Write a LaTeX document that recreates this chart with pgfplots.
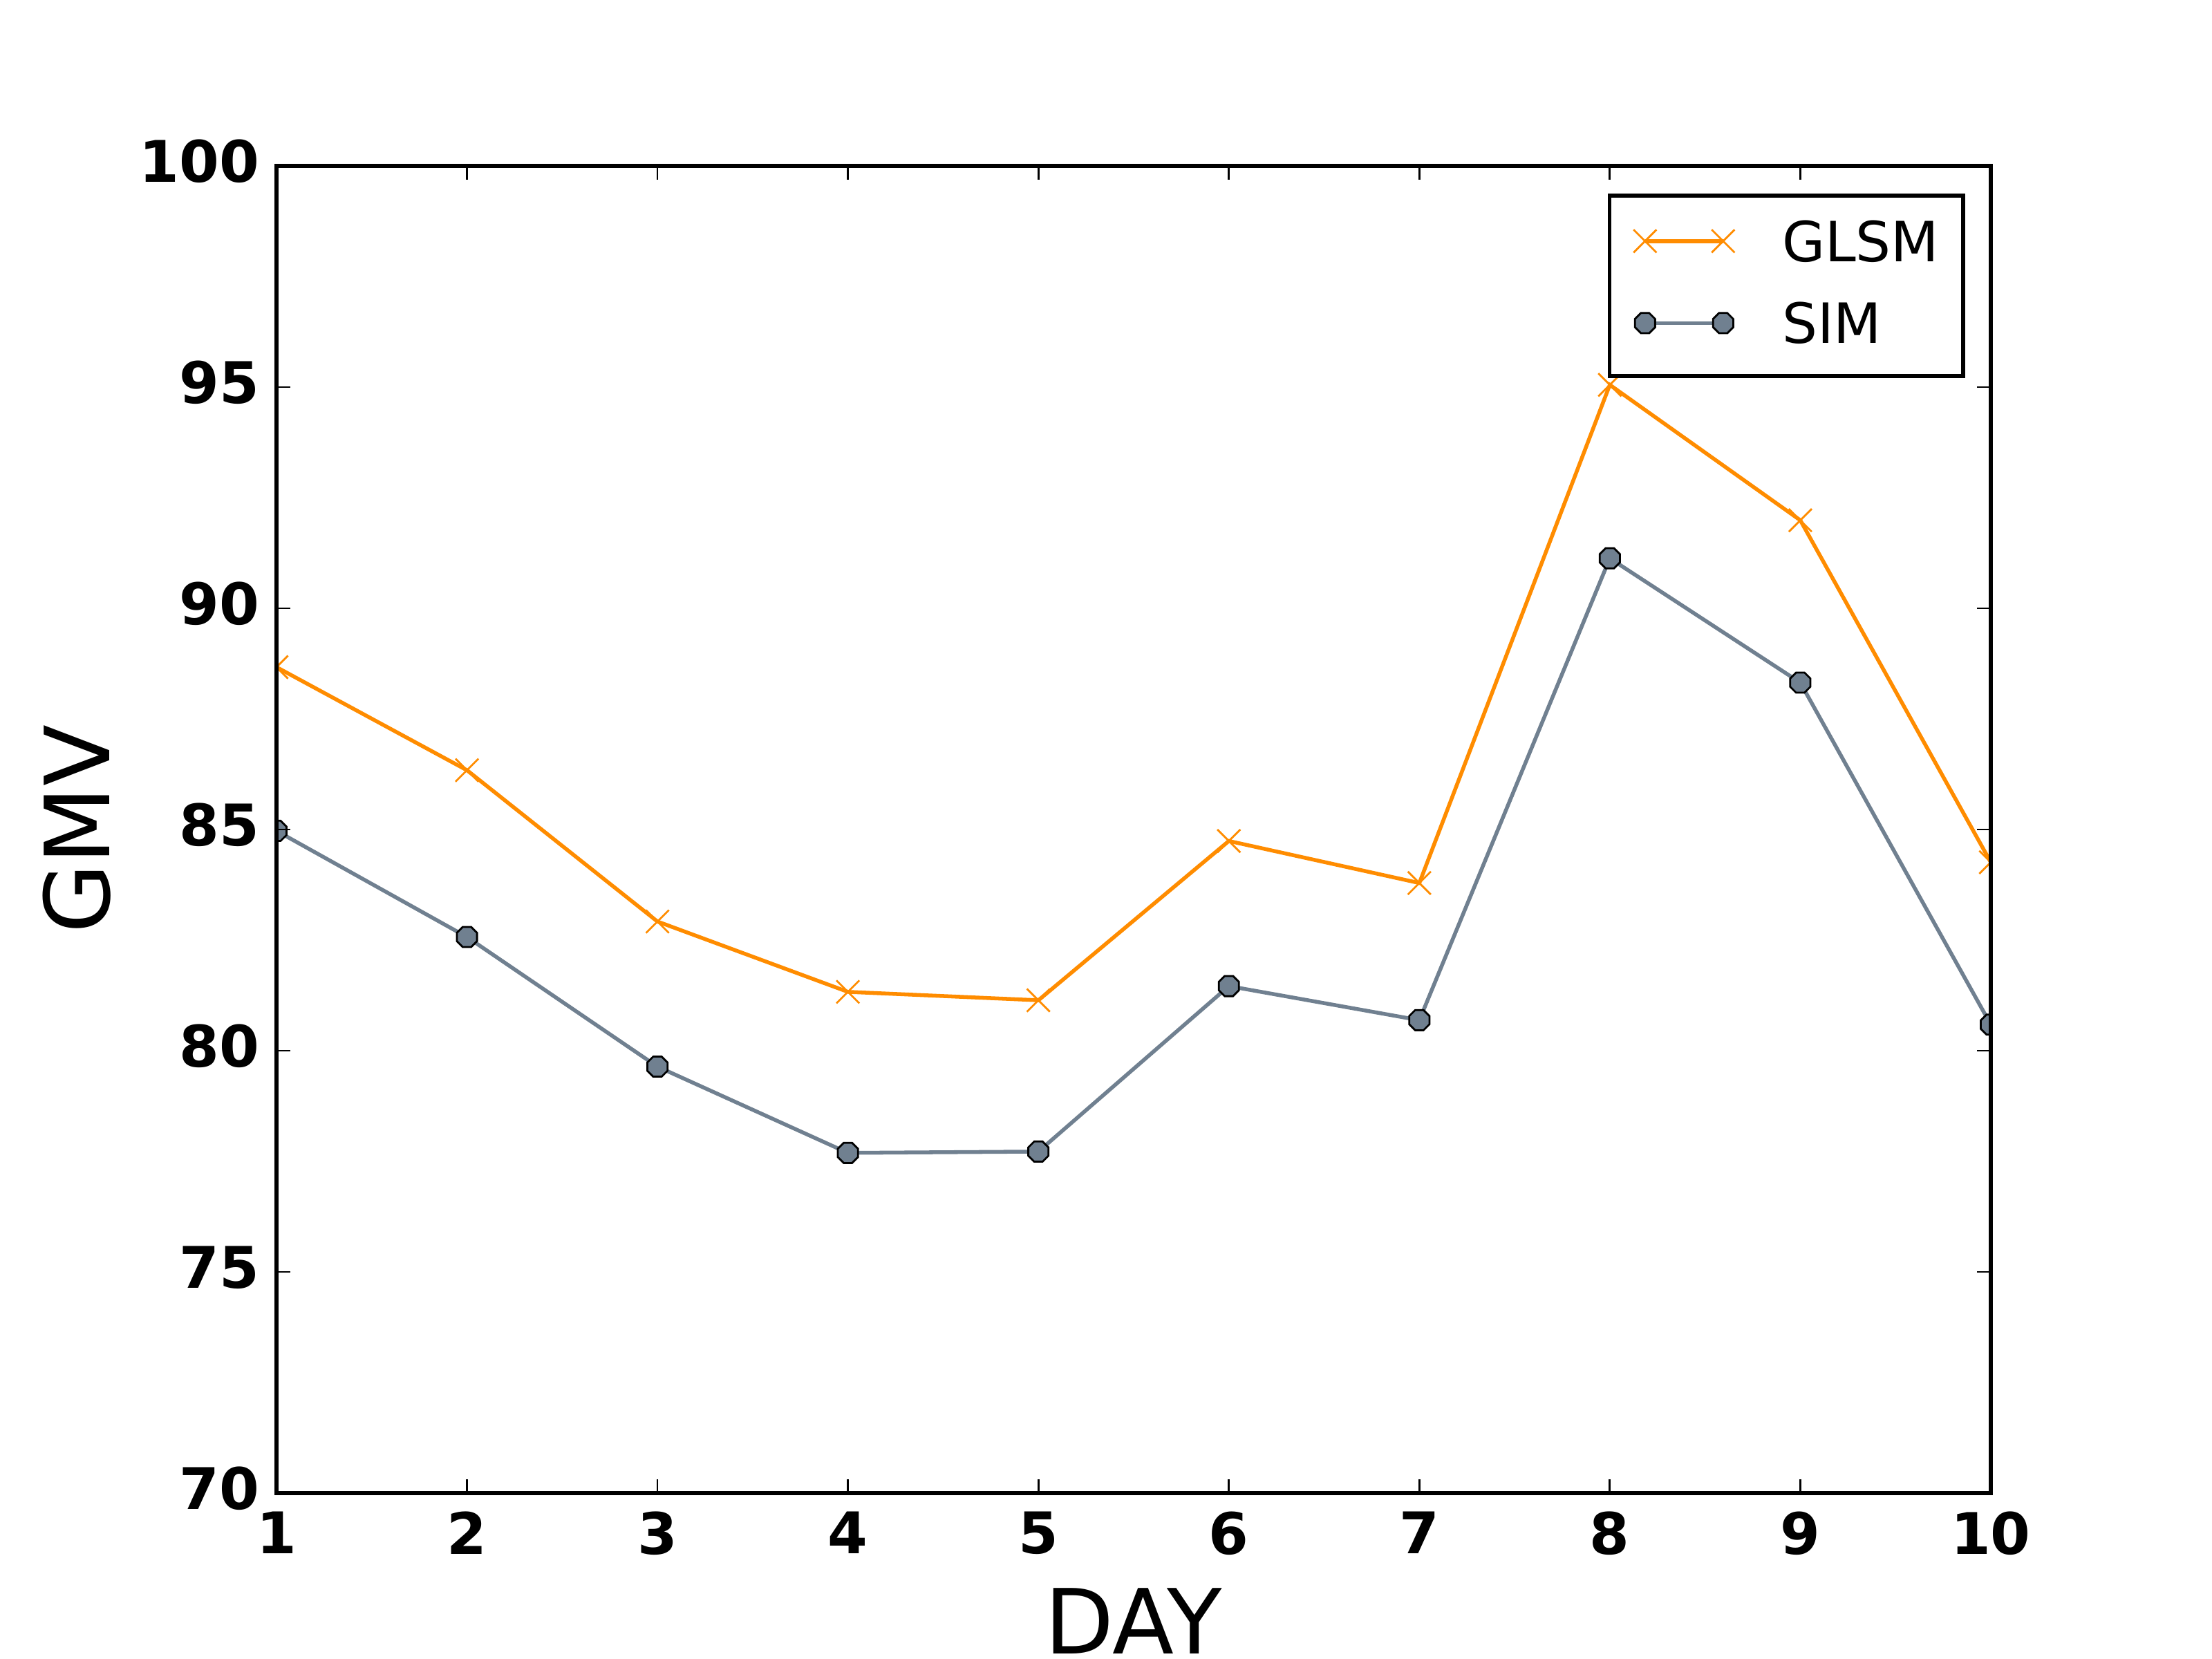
\documentclass[border=0pt]{standalone}
\usepackage{pgfplots}
\pgfplotsset{compat=1.18}
\usepackage{fontspec}
\setmainfont{DejaVu Sans}
\definecolor{glsm}{RGB}{255,140,0}
\definecolor{sim}{RGB}{112,128,144}
\pgfdeclareplotmark{octagon}{%
  \pgfpathmoveto{\pgfpointpolar{22.5}{\pgfplotmarksize}}%
  \pgfpathlineto{\pgfpointpolar{67.5}{\pgfplotmarksize}}%
  \pgfpathlineto{\pgfpointpolar{112.5}{\pgfplotmarksize}}%
  \pgfpathlineto{\pgfpointpolar{157.5}{\pgfplotmarksize}}%
  \pgfpathlineto{\pgfpointpolar{202.5}{\pgfplotmarksize}}%
  \pgfpathlineto{\pgfpointpolar{247.5}{\pgfplotmarksize}}%
  \pgfpathlineto{\pgfpointpolar{292.5}{\pgfplotmarksize}}%
  \pgfpathlineto{\pgfpointpolar{337.5}{\pgfplotmarksize}}%
  \pgfpathclose
  \pgfusepathqfillstroke}
\begin{document}
\begin{tikzpicture}
\path[use as bounding box] (-1in,-0.6in) rectangle (7in,5.4in);
\begin{axis}[
  at={(0,0)}, anchor=south west,
  scale only axis, width=6.2in, height=4.8in,
  xmin=1, xmax=10, ymin=70, ymax=100,
  xtick={1,2,...,10}, ytick={70,75,...,100},
  tick align=inside, tick pos=both,
  major tick length=3.6pt,
  every tick/.style={black, line width=0.5pt},
  axis line style={black, line width=1pt},
  axis on top,
  clip marker paths=true,
  /pgf/number format/assume math mode=true,
  ticklabel style={font=\bfseries\fontsize{15}{16}\selectfont, inner sep=0pt},
  xticklabel style={yshift=-4.6pt},
  yticklabel style={xshift=-4.3pt, yshift=1.2pt},
  xlabel={DAY}, ylabel={GMV},
  label style={font=\fontsize{23.5}{24}\selectfont, inner sep=0pt},
  xlabel style={at={([yshift=-0.3425in]axis description cs:0.5,0)}, anchor=north},
  ylabel style={at={([xshift=-0.6025in]axis description cs:0,0.5)}, rotate=0, anchor=base},
  legend cell align=left,
  legend image code/.code={\draw plot coordinates {(0cm,5.29pt) (0.7176cm,5.29pt)};},
  legend style={at={(rel axis cs:0.985,0.979)}, anchor=north east,
    draw=black, line width=1pt, fill=white,
    font=\fontsize{14.5}{15}\selectfont,
    inner xsep=6.3pt, inner ysep=6.4pt,
    nodes={inner sep=0pt, text depth=2.17pt, anchor=base west},
    row sep=8.5pt, column sep=12.4pt},
]
\addplot[glsm, line width=1pt, mark=x, mark size=4.24pt, mark options={line width=0.5pt, solid}]
  coordinates {(1,88.67) (2,86.34) (3,82.92) (4,81.33) (5,81.14) (6,84.74) (7,83.79) (8,95.05) (9,91.99) (10,84.26)};
\addlegendentry{GLSM}
\addplot[sim, line width=1pt, mark=octagon, mark size=2.85pt, mark options={fill=sim, draw=black, line width=0.5pt, solid}]
  coordinates {(1,84.97) (2,82.57) (3,79.64) (4,77.69) (5,77.72) (6,81.46) (7,80.69) (8,91.13) (9,88.32) (10,80.59)};
\addlegendentry{SIM}
\end{axis}
\end{tikzpicture}
\end{document}
